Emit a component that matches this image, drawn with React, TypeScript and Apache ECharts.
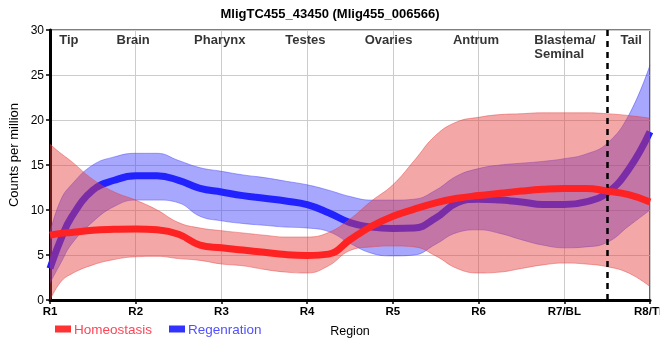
import React, { useEffect, useRef } from "react";
import * as echarts from "echarts";

// x positions along the body (R1 = 1 ... R8 = 8)
const xs = [1, 1.125, 1.25, 1.5, 1.75, 2, 2.25, 2.5, 2.75, 3, 3.25, 3.5, 3.75, 4, 4.25, 4.5, 4.75, 5, 5.25, 5.5, 5.75, 6, 6.25, 6.5, 6.75, 7, 7.25, 7.5, 7.75, 8];

const homeoMean = [7.2, 7.4, 7.5, 7.75, 7.85, 7.9, 7.8, 7.3, 6.1, 5.8, 5.55, 5.3, 5.05, 4.95, 5.1, 6.7, 8.2, 9.3, 10.1, 10.8, 11.3, 11.6, 11.85, 12.1, 12.3, 12.4, 12.4, 12.1, 11.7, 10.9];
const homeoUpper = [17.3, 16.3, 15.4, 13.4, 12.0, 11.1, 10.0, 8.6, 8.0, 7.7, 7.45, 7.2, 7.0, 7.0, 7.5, 9.0, 11.0, 12.8, 15.5, 18.3, 19.8, 20.3, 20.6, 20.7, 20.8, 20.8, 20.8, 20.7, 20.5, 20.2];
const homeoLower = [0, 2.0, 2.9, 3.9, 4.5, 4.8, 4.85, 4.6, 4.4, 4.0, 3.8, 3.4, 3.1, 3.0, 3.8, 5.5, 5.9, 6.0, 5.9, 4.9, 3.5, 3.0, 3.1, 3.5, 3.9, 4.1, 4.0, 3.7, 3.0, 1.5];

const regenMean = [3.5, 6.7, 9.2, 12.2, 13.3, 13.8, 13.8, 13.3, 12.4, 12.0, 11.6, 11.3, 11.0, 10.6, 9.7, 8.6, 8.1, 7.95, 8.0, 9.1, 10.8, 11.2, 11.1, 10.9, 10.6, 10.6, 10.9, 11.9, 14.5, 18.7];
const regenUpper = [7.5, 11.1, 12.8, 15.0, 15.9, 16.3, 16.3, 15.5, 14.7, 14.3, 13.9, 13.6, 13.2, 12.8, 12.2, 11.5, 11.1, 11.1, 11.2, 12.2, 13.8, 14.6, 15.0, 15.2, 15.4, 15.7, 16.2, 17.4, 20.5, 26.1];
const regenLower = [1.9, 4.1, 6.2, 8.7, 10.4, 11.1, 11.1, 10.8, 9.3, 8.8, 8.5, 8.3, 8.1, 8.0, 7.6, 6.3, 5.2, 4.9, 5.0, 6.2, 7.5, 7.8, 7.4, 6.7, 6.1, 5.8, 5.9, 6.4, 8.2, 10.0];

const xTickLabels = ["R1", "R2", "R3", "R4", "R5", "R6", "R7/BL", "R8/TL"];
const regionNames = ["Tip", "Brain", "Pharynx", "Testes", "Ovaries", "Antrum", "Blastema/\nSeminal", "Tail"];
const regionCenters = [1.22, 1.97, 2.98, 3.98, 4.95, 5.97, 6.65, 7.78];
const tailBoundary = 7.5;

const FONT = "'Liberation Sans', Arial, sans-serif";

export default function App() {
  const ref = useRef<HTMLDivElement>(null);
  useEffect(() => {
    if (!ref.current) return;
    const chart = echarts.init(ref.current, undefined, { renderer: "svg" });
    // data stored as [y, x] so that the stacked dimension is the y value
    const pairs = (arr: number[]) => arr.map((v, i) => [v, xs[i]]);
    const diff = (up: number[], lo: number[]) => up.map((v, i) => [+(v - lo[i]).toFixed(3), xs[i]]);
    const enc = { x: 1, y: 0 };

    const redFill = "rgba(230,60,60,0.45)";
    const redEdge = "rgba(225,60,60,0.55)";
    const blueFill = "rgba(60,60,250,0.45)";
    const blueEdge = "rgba(60,60,250,0.55)";
    const SM = 0.45;

    const bandLower = (name: string, stack: string, data: number[], edge: string, z: number) => ({
      name, type: "line", stack, z, data: pairs(data), encode: enc, smooth: SM, symbol: "none", silent: true,
      lineStyle: { color: edge, width: 0.8 }, emphasis: { disabled: true },
    });
    const bandUpper = (name: string, stack: string, up: number[], lo: number[], fill: string, edge: string, z: number) => ({
      name, type: "line", stack, z, data: diff(up, lo), encode: enc, smooth: SM, symbol: "none", silent: true,
      lineStyle: { color: edge, width: 0.8 }, areaStyle: { color: fill, opacity: 1 }, emphasis: { disabled: true },
    });

    chart.setOption({
      animation: false,
      textStyle: { fontFamily: FONT },
      title: {
        text: "MligTC455_43450 (Mlig455_006566)",
        left: "center", top: 2,
        textStyle: { fontSize: 13, fontWeight: "bold", color: "#000", fontFamily: FONT },
      },
      legend: {
        data: [
          { name: "Homeostasis", textStyle: { color: "#ff4455" } },
          { name: "Regenration", textStyle: { color: "#5050ff" } },
        ],
        icon: "rect", itemWidth: 16, itemHeight: 7, left: 50, top: 317, itemGap: 17,
        itemStyle: { borderWidth: 0 },
        lineStyle: { width: 0 },
        textStyle: { fontSize: 13.5, fontFamily: FONT, padding: [0, 0, 0, -2] },
        selectedMode: false,
      },
      grid: { left: 50, right: 10, top: 30, bottom: 60, show: true, borderColor: "#000", borderWidth: 1.2, outerBoundsMode: "none", containLabel: false },
      xAxis: {
        type: "value", min: 1, max: 8, interval: 1,
        name: "Region", nameLocation: "middle", nameGap: 24,
        nameTextStyle: { fontSize: 12.5, color: "#000", fontFamily: FONT },
        axisLine: { show: true, lineStyle: { color: "#000", width: 3 } },
        axisTick: { show: true, length: 4, lineStyle: { color: "#000", width: 1.5 } },
        axisLabel: {
          formatter: (v: number) => xTickLabels[Math.round(v) - 1] ?? "",
          fontSize: 11.5, fontWeight: "bold", color: "#000", margin: 5, fontFamily: FONT,
        },
        splitLine: { show: true, lineStyle: { color: "#cccccc", width: 1 } },
      },
      yAxis: {
        type: "value", min: 0, max: 30, interval: 5,
        name: "Counts per million", nameLocation: "middle", nameGap: 22,
        nameTextStyle: { fontSize: 13, color: "#000", fontFamily: "'Liberation Sans Narrow', 'Liberation Sans', Arial, sans-serif", padding: [0, 0, 0, 20] },
        axisLine: { show: true, lineStyle: { color: "#000", width: 3 } },
        axisTick: { show: true, length: 4, lineStyle: { color: "#000", width: 1.5 } },
        axisLabel: { fontSize: 12, color: "#000", margin: 6, fontFamily: FONT },
        splitLine: { show: true, lineStyle: { color: "#cccccc", width: 1 } },
      },
      series: [
        bandLower("rgL", "regen", regenLower, blueEdge, 2),
        bandUpper("rgU", "regen", regenUpper, regenLower, blueFill, blueEdge, 2),
        {
          name: "Regenration", type: "line", z: 3, data: pairs(regenMean), encode: enc, smooth: SM, symbol: "none", silent: true,
          lineStyle: { color: "#2222ff", width: 7 }, itemStyle: { color: "#3333ff" }, emphasis: { disabled: true },
        },
        bandLower("hmL", "homeo", homeoLower, redEdge, 4),
        bandUpper("hmU", "homeo", homeoUpper, homeoLower, redFill, redEdge, 4),
        {
          name: "Homeostasis", type: "line", z: 5, data: pairs(homeoMean), encode: enc, smooth: SM, symbol: "none", silent: true,
          lineStyle: { color: "#ff2222", width: 7 }, itemStyle: { color: "#ff3333" }, emphasis: { disabled: true },
        },
        {
          name: "regions", type: "scatter", z: 6, symbolSize: 0, silent: true,
          markLine: {
            silent: true, symbol: "none", label: { show: false },
            lineStyle: { color: "#000", type: [6, 5], width: 2.5 },
            data: [{ xAxis: tailBoundary }],
          },
          data: regionNames.map((n, i) => ({
            value: [regionCenters[i], 29.7],
            label: {
              show: true, formatter: n, position: [0, 0],
              align: n.includes("\n") ? "left" : "center", verticalAlign: "top",
              fontSize: 13, fontWeight: "bold", color: "#000", lineHeight: 14, fontFamily: FONT,
            },
          })),
        },
      ],
    });
    return () => chart.dispose();
  }, []);
  return <div ref={ref} style={{ position: "fixed", left: 0, top: 0, width: 660, height: 360 }} />;
}
